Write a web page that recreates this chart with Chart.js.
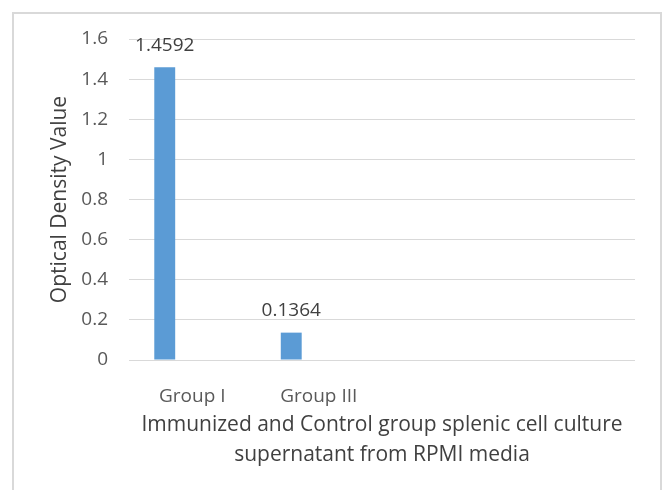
<!DOCTYPE html>
<html>
<head>
<meta charset="utf-8">
<script src="https://cdn.jsdelivr.net/npm/chart.js@4.4.1/dist/chart.umd.min.js"></script>
<style>
  body { margin: 0; background: #fff; overflow: hidden; }
  #wrap { position: relative; width: 663px; height: 490px; }
  #frame {
    position: absolute; left: 12px; top: 12px; width: 650px; height: 520px;
    box-sizing: border-box; border: 2px solid #d9d9d9; pointer-events: none;
  }
  canvas { position: absolute; left: 0; top: 0; }
</style>
</head>
<body>
<div id="wrap">
  <canvas id="chart" width="663" height="490"></canvas>
  <div id="frame"></div>
</div>
<script>
// data
const categories = ['Group I', 'Group III', '', ''];
const odValues = [1.4592, 0.1364, null, null];
const emptySeries = [null, null, null, null];
const yMin = 0;
const yMax = 1.6;
const yStep = 0.2;

const xTitle = ['Immunized and Control group splenic cell culture', 'supernatant from RPMI media'];
const yTitle = 'Optical Density Value';

const FONT = '"Open Sans", sans-serif';
const TICK_COLOR = '#595959';
const TITLE_COLOR = '#404040';
const GRID_COLOR = '#d9d9d9';
const BAR_COLOR = '#5b9bd5';

// value labels above the bars (no datalabels plugin available offline)
const valueLabels = {
  id: 'valueLabels',
  afterDatasetsDraw(chart) {
    const ctx = chart.ctx;
    const meta = chart.getDatasetMeta(0);
    ctx.save();
    ctx.font = `19px ${FONT}`;
    ctx.fillStyle = TITLE_COLOR;
    ctx.textAlign = 'center';
    ctx.textBaseline = 'middle';
    meta.data.forEach((bar, i) => {
      const v = odValues[i];
      if (v === null) return;
      ctx.fillText(String(v), bar.x, bar.y - 22);
    });
    ctx.restore();
  }
};

new Chart(document.getElementById('chart'), {
  type: 'bar',
  data: {
    labels: categories,
    datasets: [
      {
        label: 'OD',
        data: odValues,
        backgroundColor: BAR_COLOR,
        categoryPercentage: 0.87,
        barPercentage: 0.38
      },
      {
        label: 'empty',
        data: emptySeries,
        backgroundColor: BAR_COLOR,
        categoryPercentage: 0.87,
        barPercentage: 0.38
      }
    ]
  },
  options: {
    responsive: false,
    animation: false,
    layout: { padding: { top: 39, right: 28, bottom: 0, left: 0 } },
    plugins: {
      legend: { display: false },
      tooltip: { enabled: false }
    },
    scales: {
      x: {
        grid: { display: false },
        border: { display: false },
        ticks: {
          color: TICK_COLOR,
          font: { family: FONT, size: 19 },
          padding: 17,
          maxRotation: 0,
          autoSkip: false
        },
        title: {
          display: true,
          text: xTitle,
          color: TITLE_COLOR,
          font: { family: FONT, size: 21, lineHeight: 30 / 21 },
          padding: { top: 0, bottom: 20 }
        },
        afterFit(scale) { scale.height = 130; }
      },
      y: {
        min: yMin,
        max: yMax,
        grid: { color: GRID_COLOR, lineWidth: 1, drawTicks: false },
        border: { display: false },
        ticks: {
          stepSize: yStep,
          color: TICK_COLOR,
          font: { family: FONT, size: 19 },
          padding: 21,
          callback: (v) => String(+v.toFixed(1))
        },
        title: {
          display: true,
          text: yTitle,
          color: TITLE_COLOR,
          font: { family: FONT, size: 21 },
          padding: { top: 47, bottom: 0 }
        },
        afterFit(scale) { scale.width = 129; }
      }
    }
  },
  plugins: [valueLabels]
});
</script>
</body>
</html>
